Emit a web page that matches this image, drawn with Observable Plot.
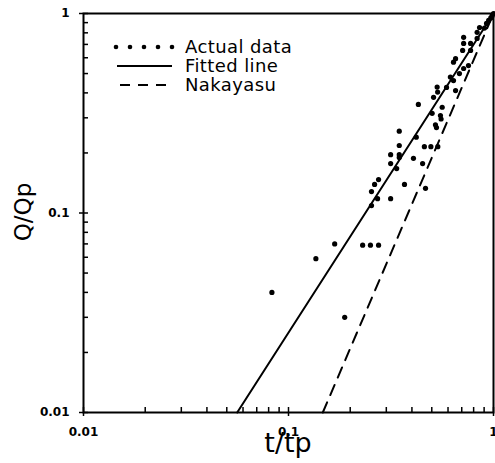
<!DOCTYPE html>
<html>
<head>
<meta charset="utf-8">
<script src="https://cdn.jsdelivr.net/npm/d3@7"></script>
<script src="https://cdn.jsdelivr.net/npm/@observablehq/plot@0.6"></script>
<style>
  html, body { margin: 0; padding: 0; background: #fff; }
  #wrap { position: relative; width: 495px; height: 463px; overflow: hidden; font-family: "DejaVu Sans", sans-serif; }
  #wrap svg.plot { position: absolute; left: 0; top: 0; }
  .title { position: absolute; color: #000; white-space: nowrap; }
</style>
</head>
<body>
<div id="wrap"></div>
<script>
// ---- data ----
const tp = [0.083, 0.136, 0.168, 0.230, 0.251, 0.275, 0.188, 0.315, 0.254, 0.263,
            0.275, 0.368, 0.254, 0.272, 0.347, 0.347, 0.315, 0.347, 0.347, 0.315,
            0.337, 0.407, 0.451, 0.466, 0.460, 0.495, 0.535, 0.420, 0.521, 0.527,
            0.551, 0.555, 0.502, 0.430, 0.531, 0.534, 0.590, 0.653, 0.616, 0.638,
            0.682, 0.715, 0.755, 0.638, 0.653, 0.715, 0.715, 0.707, 0.773, 0.773,
            0.832, 0.832, 0.855, 0.904, 0.925, 0.947, 0.970, 0.985, 1.000, 0.562,
            0.510];
const qp = [0.040, 0.059, 0.070, 0.069, 0.069, 0.069, 0.030, 0.118, 0.128, 0.139,
            0.147, 0.139, 0.109, 0.118, 0.257, 0.218, 0.196, 0.196, 0.190, 0.177,
            0.167, 0.188, 0.177, 0.133, 0.215, 0.215, 0.215, 0.240, 0.277, 0.268,
            0.308, 0.296, 0.316, 0.350, 0.428, 0.404, 0.426, 0.411, 0.480, 0.461,
            0.500, 0.530, 0.548, 0.570, 0.594, 0.760, 0.708, 0.653, 0.708, 0.653,
            0.750, 0.805, 0.851, 0.845, 0.892, 0.923, 0.950, 0.975, 1.000, 0.339,
            0.380];

// fitted line and Nakayasu curve: end points
const fittedX = [0.0562, 1];
const fittedY = [0.01, 1];
const nakaX = [0.147, 1];
const nakaY = [0.01, 1];

// ticks
const majorTicks = [0.01, 0.1, 1];
const majorLabels = ["0.01", "0.1", "1"];
const minorTicks = [0.02, 0.03, 0.04, 0.05, 0.06, 0.07, 0.08, 0.09,
                    0.2, 0.3, 0.4, 0.5, 0.6, 0.7, 0.8, 0.9];

const legendLabels = ["Actual data", "Fitted line", "Nakayasu"];
const xTitle = "t/tp";
const yTitle = "Q/Qp";

// ---- build tables ----
const points = tp.map((t, i) => ({t, q: qp[i]}));
const fitted = fittedX.map((t, i) => ({t, q: fittedY[i]}));
const naka = nakaX.map((t, i) => ({t, q: nakaY[i]}));
const fmt = d => majorLabels[majorTicks.indexOf(d)] ?? "";
const allTicks = minorTicks.concat(majorTicks);

const W = 495, H = 463, ML = 83, MR = 2, MT = 13, MB = 51;
const frameW = W - ML - MR, frameH = H - MT - MB;
const inTick = 5;

const chart = Plot.plot({
  width: W,
  height: H,
  marginLeft: ML,
  marginRight: MR,
  marginTop: MT,
  marginBottom: MB,
  x: {type: "log", domain: [0.01, 1]},
  y: {type: "log", domain: [0.01, 1]},
  style: {fontFamily: "DejaVu Sans", background: "white", color: "black", overflow: "visible"},
  marks: [
    Plot.axisX(majorTicks, {tickSize: 4, tickPadding: 11, tickFormat: fmt, fontSize: 12, fontWeight: "bold", label: null, strokeWidth: 1.5}),
    Plot.axisY(majorTicks, {tickSize: 4, tickPadding: 10, tickFormat: fmt, fontSize: 12, fontWeight: "bold", label: null, strokeWidth: 1.5}),
    // inward minor/major ticks
    Plot.ruleX(allTicks, {x: d => d, insetTop: frameH - inTick, stroke: "black", strokeWidth: 1.5}),
    Plot.ruleY(allTicks, {y: d => d, insetRight: frameW - inTick, stroke: "black", strokeWidth: 1.5}),
    Plot.frame({strokeWidth: 2}),
    Plot.line(fitted, {x: "t", y: "q", stroke: "black", strokeWidth: 2}),
    Plot.line(naka, {x: "t", y: "q", stroke: "black", strokeWidth: 2, strokeDasharray: "11,8"}),
    Plot.dot(points, {x: "t", y: "q", r: 2.6, fill: "black", stroke: "none"})
  ]
});
chart.classList.add("plot");
const wrap = document.getElementById("wrap");
wrap.appendChild(chart);

// ---- legend (overlay) ----
const ns = "http://www.w3.org/2000/svg";
const leg = document.createElementNS(ns, "svg");
leg.setAttribute("width", 260);
leg.setAttribute("height", 70);
leg.style.position = "absolute";
leg.style.left = "110px";
leg.style.top = "32px";
const rowsY = [15, 34, 53];
legendLabels.forEach((lab, i) => {
  const y = rowsY[i];
  if (i === 0) {
    [6, 20, 34, 48, 62].forEach(cx => {
      const c = document.createElementNS(ns, "circle");
      c.setAttribute("cx", cx); c.setAttribute("cy", y); c.setAttribute("r", 2.3);
      c.setAttribute("fill", "black");
      leg.appendChild(c);
    });
  } else {
    const l = document.createElementNS(ns, "line");
    l.setAttribute("x1", i === 1 ? 7 : 10); l.setAttribute("x2", 62);
    l.setAttribute("y1", y); l.setAttribute("y2", y);
    l.setAttribute("stroke", "black"); l.setAttribute("stroke-width", 2);
    if (i === 2) l.setAttribute("stroke-dasharray", "10,8");
    leg.appendChild(l);
  }
  const t = document.createElementNS(ns, "text");
  t.setAttribute("x", 75); t.setAttribute("y", y + 6);
  t.setAttribute("font-family", "DejaVu Sans");
  t.setAttribute("font-size", 18);
  t.setAttribute("letter-spacing", 0.4);
  t.setAttribute("fill", "black");
  t.textContent = lab;
  leg.appendChild(t);
});
wrap.appendChild(leg);

// ---- axis titles ----
const xt = document.createElement("div");
xt.className = "title";
xt.textContent = xTitle;
xt.style.fontSize = "27px";
xt.style.left = "288px";
xt.style.top = "428px";
xt.style.transform = "translateX(-50%)";
xt.style.lineHeight = "30px";
wrap.appendChild(xt);

const yt = document.createElement("div");
yt.className = "title";
yt.textContent = yTitle;
yt.style.fontSize = "23px";
yt.style.lineHeight = "26px";
yt.style.left = "23px";
yt.style.top = "212px";
yt.style.transform = "translate(-50%, -50%) rotate(-90deg)";
wrap.appendChild(yt);
</script>
</body>
</html>
